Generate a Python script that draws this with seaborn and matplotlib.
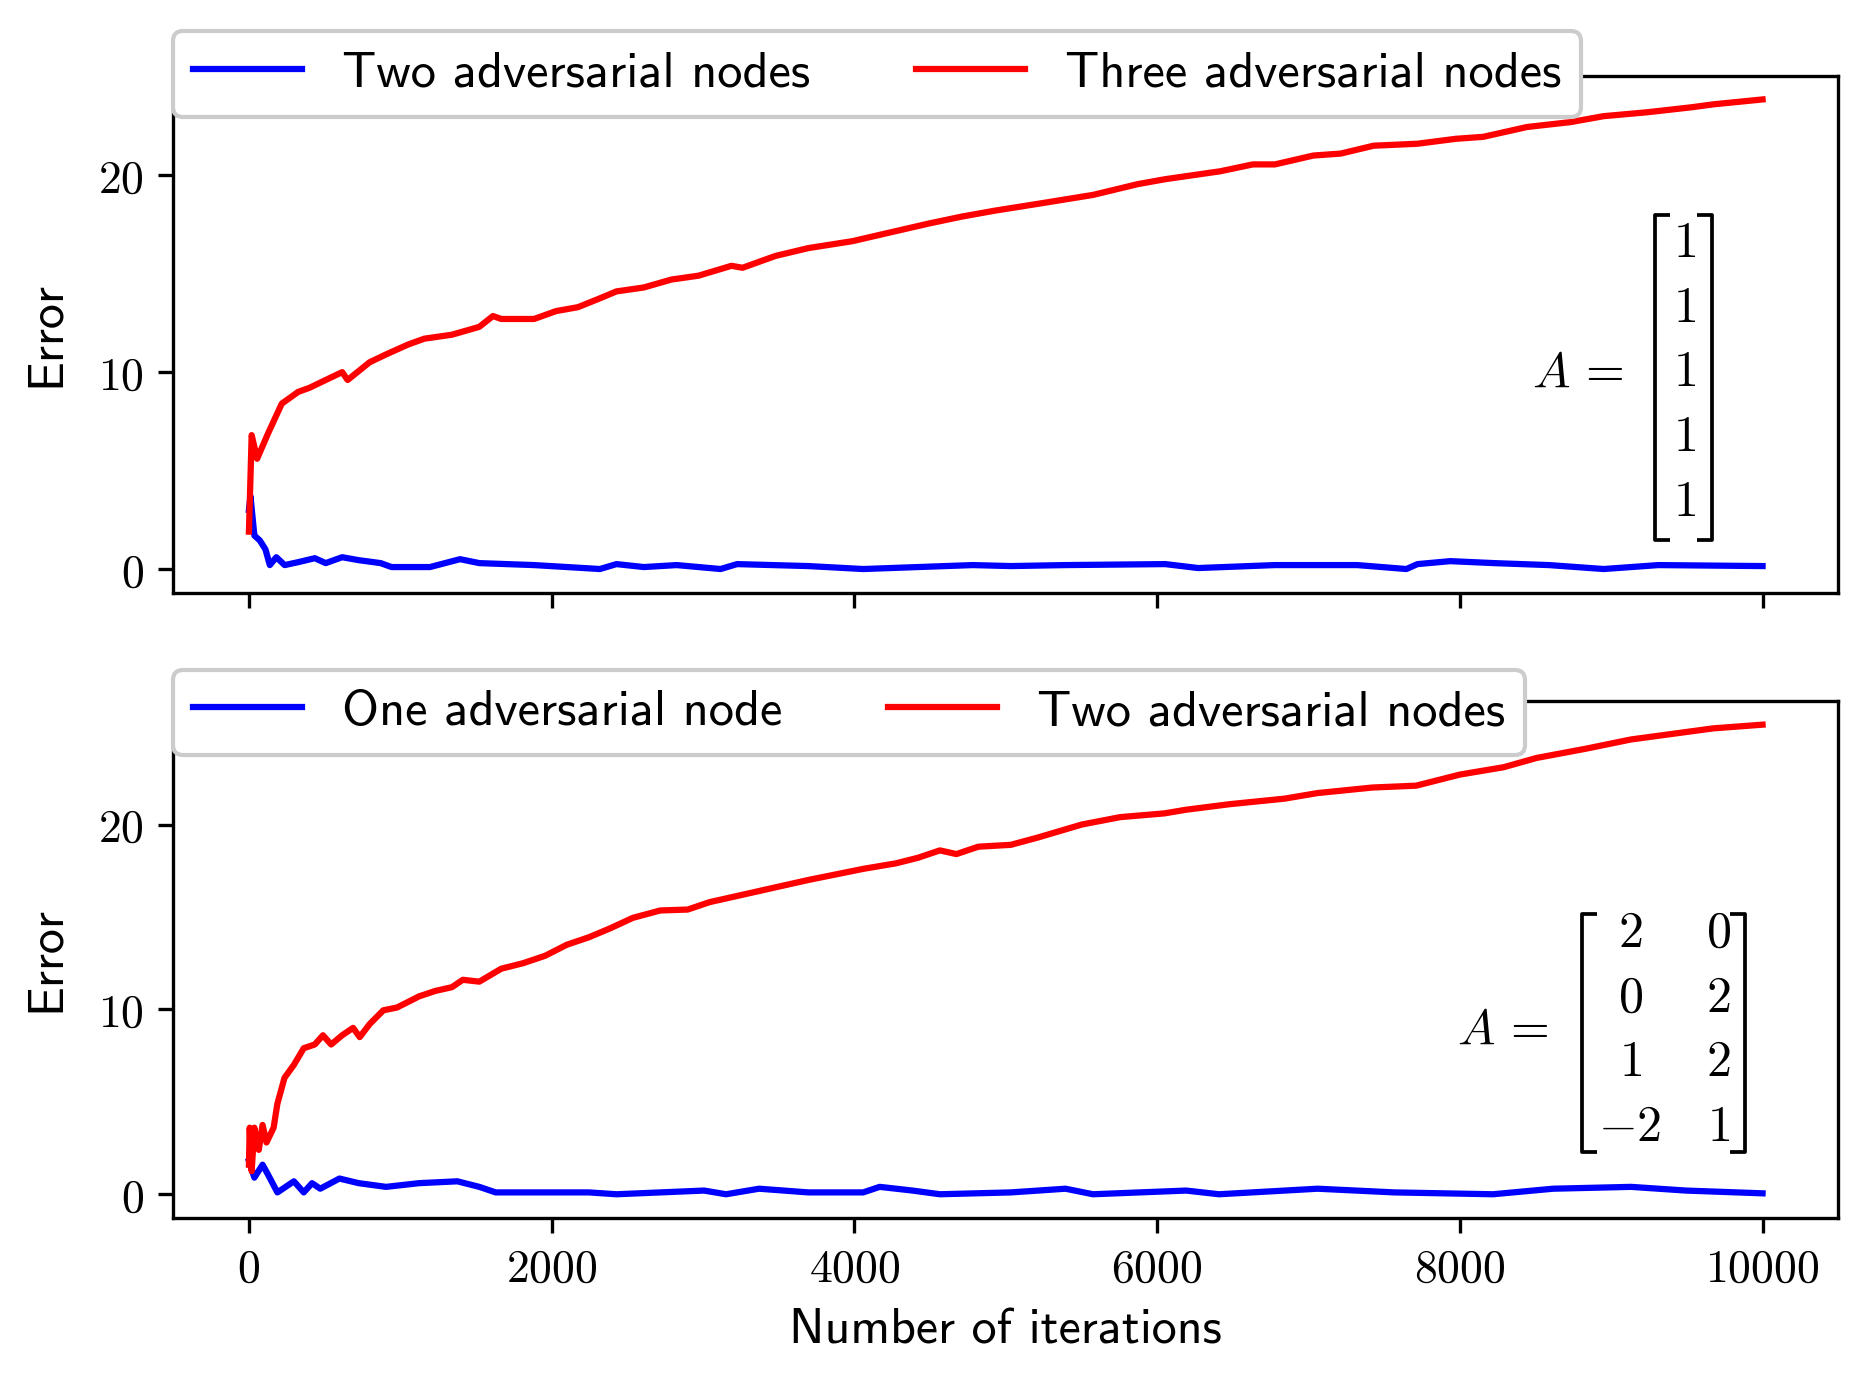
import numpy as np
import pandas as pd
import matplotlib
matplotlib.use("Agg")
import matplotlib.pyplot as plt
from matplotlib.ticker import MultipleLocator, FuncFormatter
import seaborn as sns

# ---------------- data ----------------
top_red_iter = [0, 18, 54, 127, 217, 326, 399, 507, 616, 652, 797, 906, 1051, 1159, 1341,
                1522, 1612, 1667, 1884, 2029, 2174, 2319, 2428, 2609, 2790, 2971, 3188, 3261,
                3478, 3696, 3986, 4239, 4493, 4710, 4927, 5214, 5576, 5873, 6054, 6235, 6416,
                6633, 6778, 7032, 7213, 7430, 7720, 7973, 8154, 8444, 8733, 8950, 9240, 9529,
                9674, 10000]
top_red_err = [1.9, 6.8, 5.6, 6.9, 8.4, 9.0, 9.2, 9.6, 10.0, 9.6, 10.5, 10.9, 11.4, 11.7, 11.9,
               12.3, 12.85, 12.7, 12.7, 13.1, 13.3, 13.75, 14.1, 14.3, 14.7, 14.9, 15.4, 15.3,
               15.9, 16.3, 16.65, 17.1, 17.55, 17.9, 18.2, 18.55, 19.0, 19.55, 19.8, 20.0, 20.2,
               20.55, 20.55, 21.0, 21.1, 21.5, 21.6, 21.85, 21.95, 22.45, 22.7, 23.0, 23.2, 23.45,
               23.6, 23.85]

top_blue_iter = [0, 10, 36, 72, 109, 138, 181, 236, 326, 435, 507, 616, 725, 870, 942, 1196,
                 1395, 1522, 1884, 2319, 2428, 2609, 2826, 3116, 3225, 3696, 4058, 4420, 4782,
                 5033, 5395, 6054, 6271, 6778, 7322, 7647, 7720, 7937, 8227, 8589, 8950, 9312,
                 10000]
top_blue_err = [3.0, 3.7, 1.7, 1.45, 1.0, 0.2, 0.6, 0.2, 0.35, 0.55, 0.3, 0.6, 0.45, 0.3, 0.1,
                0.1, 0.5, 0.3, 0.2, 0.0, 0.25, 0.1, 0.2, 0.0, 0.25, 0.15, 0.0, 0.1, 0.2, 0.15,
                0.2, 0.25, 0.05, 0.2, 0.2, 0.0, 0.25, 0.4, 0.3, 0.2, 0.0, 0.2, 0.15]

bot_red_iter = [0, 5, 18, 36, 65, 90, 116, 163, 188, 235, 297, 362, 435, 489, 543, 616, 688,
                732, 797, 888, 978, 1123, 1232, 1341, 1413, 1522, 1667, 1812, 1957, 2101, 2246,
                2391, 2536, 2717, 2899, 3043, 3261, 3478, 3696, 3877, 4058, 4275, 4420, 4565,
                4674, 4819, 5033, 5214, 5503, 5757, 6047, 6192, 6481, 6843, 7060, 7422, 7711,
                8000, 8290, 8507, 8833, 9131, 9493, 9674, 10000]
bot_red_err = [1.6, 3.6, 1.25, 3.6, 2.4, 3.75, 2.8, 3.6, 4.9, 6.3, 7.0, 7.9, 8.1, 8.6, 8.1, 8.6,
               9.0, 8.5, 9.2, 9.95, 10.1, 10.7, 11.0, 11.2, 11.6, 11.5, 12.2, 12.5, 12.9, 13.5,
               13.9, 14.4, 14.95, 15.35, 15.4, 15.8, 16.2, 16.6, 17.0, 17.3, 17.6, 17.9, 18.2,
               18.6, 18.4, 18.8, 18.9, 19.3, 20.0, 20.4, 20.6, 20.8, 21.1, 21.4, 21.7, 22.0,
               22.1, 22.7, 23.1, 23.6, 24.1, 24.6, 25.0, 25.2, 25.4]

bot_blue_iter = [0, 36, 90, 127, 188, 297, 362, 417, 471, 598, 725, 906, 1123, 1377, 1522, 1630,
                 2246, 2428, 3007, 3152, 3370, 3696, 4058, 4167, 4384, 4565, 5033, 5395, 5576,
                 6192, 6409, 7060, 7568, 8219, 8616, 9131, 9493, 10000]
bot_blue_err = [1.8, 0.9, 1.6, 1.05, 0.1, 0.7, 0.1, 0.6, 0.3, 0.85, 0.6, 0.4, 0.6, 0.7, 0.4,
                0.1, 0.1, 0.0, 0.2, 0.0, 0.3, 0.1, 0.1, 0.4, 0.2, 0.0, 0.1, 0.3, 0.0, 0.2, 0.0,
                0.3, 0.1, 0.0, 0.3, 0.4, 0.2, 0.05]

top_labels = ["Two adversarial nodes", "Three adversarial nodes"]
bot_labels = ["One adversarial node", "Two adversarial nodes"]

top_matrix = [["1"], ["1"], ["1"], ["1"], ["1"]]
bot_matrix = [["2", "0"], ["0", "2"], ["1", "2"], ["-2", "1"]]

# ---------------- style ----------------
plt.rcParams["mathtext.fontset"] = "cm"
plt.rcParams["axes.unicode_minus"] = True
SANS = "cmss10"

fig, (ax1, ax2) = plt.subplots(2, 1, sharex=True, figsize=(1867 / 300, 1386 / 300), dpi=300)
fig.subplots_adjust(left=0.0928, right=0.9846, top=0.9452, bottom=0.1214, hspace=0.2104)


def draw_panel(ax, bx, by, rx, ry, labels):
    dfb = pd.DataFrame({"iter": bx, "err": by})
    dfr = pd.DataFrame({"iter": rx, "err": ry})
    sns.lineplot(data=dfb, x="iter", y="err", color="blue", lw=1.5, label=labels[0],
                 estimator=None, ax=ax)
    sns.lineplot(data=dfr, x="iter", y="err", color="red", lw=1.5, label=labels[1],
                 estimator=None, ax=ax)
    ax.set_xlabel("")
    ax.set_ylabel("Error", family=SANS, fontsize=12, labelpad=7)
    ax.yaxis.set_major_locator(MultipleLocator(10))
    ax.xaxis.set_major_locator(MultipleLocator(2000))
    fmt = FuncFormatter(lambda v, p: r"$%d$" % int(round(v)))
    ax.yaxis.set_major_formatter(fmt)
    ax.xaxis.set_major_formatter(fmt)
    ax.tick_params(labelsize=11)


draw_panel(ax1, top_blue_iter, top_blue_err, top_red_iter, top_red_err, top_labels)
draw_panel(ax2, bot_blue_iter, bot_blue_err, bot_red_iter, bot_red_err, bot_labels)
ax1.tick_params(labelbottom=False)
ax2.set_xlabel("Number of iterations", family=SANS, fontsize=12)

for ax, anchor_y in ((ax1, 1.087), (ax2, 1.061)):
    leg = ax.legend(loc="upper left", bbox_to_anchor=(0, anchor_y), ncol=2, borderaxespad=0,
                    prop={"family": SANS, "size": 12.1}, handlelength=2.15,
                    columnspacing=2.1, framealpha=1.0)


def draw_matrix(ax, mat, col_x, row_y, lb, rb, top, bottom, a_x, a_y):
    for r, row in enumerate(mat):
        for c, val in enumerate(row):
            ax.text(col_x[c], row_y[r], r"$%s$" % val, transform=ax.transAxes,
                    ha="center", va="center", fontsize=12)
    ax.text(a_x, a_y, r"$A\,=$", transform=ax.transAxes, ha="right", va="center", fontsize=12)
    s = 0.009
    kw = dict(transform=ax.transAxes, color="black", lw=0.9, clip_on=False,
              solid_capstyle="butt")
    ax.plot([lb + s, lb, lb, lb + s], [top, top, bottom, bottom], **kw)
    ax.plot([rb - s, rb, rb, rb - s], [top, top, bottom, bottom], **kw)


draw_matrix(ax1, top_matrix, [0.9075], [0.676, 0.551, 0.426, 0.301, 0.176],
            0.890, 0.924, 0.730, 0.102, 0.871, 0.426)
draw_matrix(ax2, bot_matrix, [0.875, 0.928], [0.551, 0.426, 0.301, 0.176],
            0.846, 0.944, 0.588, 0.127, 0.826, 0.363)

fig.savefig("out.png", dpi=300)
